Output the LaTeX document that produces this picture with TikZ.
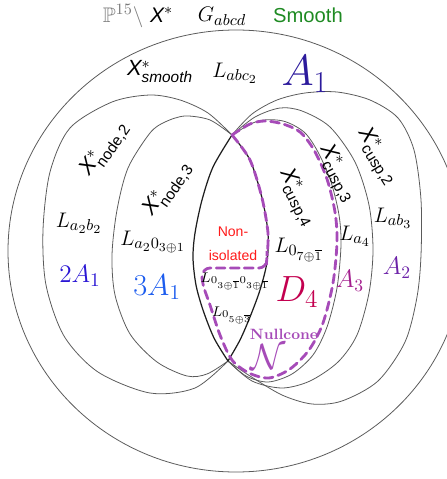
\documentclass[tikz,border=0pt]{standalone}
\usepackage{amsmath,amssymb}
\usepackage{fontspec}
\usetikzlibrary{positioning}
\newfontfamily\arial{Liberation Sans}
\DeclareMathSizes{12}{12}{9}{7}
\definecolor{trazo}{HTML}{5A5A5A}
\definecolor{oscuro}{HTML}{1E1E1E}
\definecolor{gris}{HTML}{7A7A7A}
\definecolor{verde}{HTML}{1E8A22}
\definecolor{indigo}{HTML}{2C1A9C}
\definecolor{azul}{HTML}{2A16D4}
\definecolor{celeste}{HTML}{1C5CEE}
\definecolor{rojo}{HTML}{FF1A1A}
\definecolor{carmin}{HTML}{C3004F}
\definecolor{malva}{HTML}{A41F8E}
\definecolor{violeta}{HTML}{6C22A8}
\definecolor{nulo}{HTML}{A64BB8}
\newcommand\xstar[1]{{\arial\itshape X}$^{*}_{\text{\arial #1}}$}

\begin{document}
\begin{tikzpicture}[x=0.02cm,y=-0.02cm,line cap=round,
    arco/.style={trazo,line width=0.45pt},
    lente/.style={oscuro,line width=0.7pt},
    borde/.style={nulo,line width=1.6pt,dash pattern=on 5pt off 3pt},
    lab/.style={inner sep=0pt,font=\fontsize{12}{14}\selectfont},
    chico/.style={inner sep=0pt,font=\fontsize{8}{9}\selectfont},
    xlab/.style={inner sep=0pt,font=\fontsize{12.5}{14}\selectfont}]
    \useasboundingbox (0,0) rectangle (446,479);
    \coordinate (T) at (232,135);
    \coordinate (B) at (228,361);
    % --- elipse exterior ---
    \draw[arco] (236,251) ellipse [x radius=228, y radius=221];
    % --- familia izquierda (nodos) ---
    \draw[arco] plot[smooth] coordinates {(T) (208,113) (180,100) (150,95) (112,102)
          (70,128) (50,172) (43,230) (46,285) (64,336) (98,372) (150,393) (195,388) (B)};
    \draw[arco] plot[smooth] coordinates {(T) (210,120) (185,116) (165,122) (150,133)
          (128,168) (117,210) (112,255) (115,295) (130,334) (157,362) (187,376) (207,374) (B)};
    % --- familia derecha (cuspides) ---
    \draw[arco] plot[smooth] coordinates {(T) (252,114) (277,100) (305,93) (337,92)
          (370,100) (398,118) (414,150) (421,200) (421,255) (417,297) (405,342)
          (378,381) (342,401) (312,404) (282,395) (250,376) (B)};
    \draw[arco] plot[smooth] coordinates {(T) (255,117) (280,108) (302,111) (330,127)
          (355,162) (369,205) (373,250) (369,293) (357,335) (338,362) (310,381)
          (282,388) (252,381) (B)};
    \draw[arco] plot[smooth] coordinates {(T) (258,121) (283,121) (304,132) (318,152)
          (331,182) (339,215) (341,245) (337,288) (327,327) (313,355) (292,374)
          (268,382) (246,376) (B)};
    % --- lente central ---
    \draw[lente] plot[smooth] coordinates {(T) (213,167) (202,200) (195,233) (193,258)
          (196,285) (203,310) (214,338) (B)};
    \draw[lente] plot[smooth] coordinates {(T) (250,160) (262,198) (268,233) (267,262)
          (260,290) (250,317) (240,340) (B)};
    % --- cono nulo ---
    \draw[borde] plot[smooth] coordinates {(T) (250,124) (265,121) (283,124) (300,132)
          (314,150) (327,179) (335,212) (337,242) (333,283) (323,323) (309,350)
          (290,369) (269,378) (249,373) (232,360) (220,335) (210,305) (204,288) (202,278)}
          [rounded corners=4pt] -- (203,268) -- (266,268) -- (267,258)
          [sharp corners] -- plot[smooth] coordinates {(267,256) (268,233) (262,198) (250,160) (T)};
    % --- titulos ---
    \node[lab] (pset) at (138,16) {\textcolor{gris}{$\mathbb{P}^{15}\setminus$} {\arial\itshape X}$^{*}$};
    \node[lab] (gabcd) at (222,16) {$G_{abcd}$};
    \node[inner sep=0pt,font=\arial\fontsize{11.5}{13}\selectfont,text=verde] (smooth) at (308,15) {Smooth};
    \node[xlab] (xsm) at (160,72) {\xstar{\itshape smooth}};
    \node[lab] (labc) at (235,73) {$L_{abc_2}$};
    \node[inner sep=0pt,font=\fontsize{25}{28}\selectfont,text=indigo] (aone) at (305,74) {$A_1$};
    % --- izquierda ---
    \node[xlab,rotate=55] (xnd2) at (105,149) {\xstar{node,2}};
    \node[lab] (lab2) at (79,223) {$L_{a_2b_2}$};
    \node[inner sep=0pt,font=\fontsize{15}{17}\selectfont,text=azul] (twoA) at (80,276) {$2A_1$};
    \node[xlab,rotate=55] (xnd3) at (168,189) {\xstar{node,3}};
    \node[lab] (la03) at (153,242) {$L_{a_20_{3\oplus1}}$};
    \node[inner sep=0pt,font=\fontsize{17}{19}\selectfont,text=celeste] (threeA) at (157,287) {$3A_1$};
    % --- centro ---
    \node[inner sep=0pt,align=center,text=rojo,font=\arial\fontsize{8}{13.6}\selectfont] (nonisol) at (233,244) {Non-\\isolated};
    \node[chico] (l0331) at (235,281) {$L_{0_{3\oplus\overline{1}}0_{3\oplus\overline{1}}}$};
    \node[chico] (l053) at (232,315) {$L_{0_{5\oplus\overline{3}}}$};
    \node[inner sep=0pt,text=nulo,font=\fontsize{8.5}{10}\selectfont\bfseries] (nullc) at (284,334) {Nullcone};
    \node[inner sep=0pt,text=nulo,font=\fontsize{20}{22}\selectfont] (ncal) at (268,357) {$\mathcal{N}$};
    % --- derecha ---
    \node[xlab,rotate=-63] (xcu4) at (297,198) {\xstar{cusp,4}};
    \node[lab] (l071) at (299,250) {$L_{0_{7\oplus\overline{1}}}$};
    \node[inner sep=0pt,font=\fontsize{22}{24}\selectfont,text=carmin] (dfour) at (297,292) {$D_4$};
    \node[xlab,rotate=-62] (xcu3) at (337,174) {\xstar{cusp,3}};
    \node[lab] (la4) at (355,236) {$L_{a_4}$};
    \node[inner sep=0pt,font=\fontsize{14.5}{16}\selectfont,text=malva] (athree) at (350,281) {$A_3$};
    \node[xlab,rotate=-58] (xcu2) at (377,157) {\xstar{cusp,2}};
    \node[lab] (lab3) at (393,218) {$L_{ab_3}$};
    \node[inner sep=0pt,font=\fontsize{14.5}{16}\selectfont,text=violeta] (atwo) at (397,268) {$A_2$};
\end{tikzpicture}
\end{document}
